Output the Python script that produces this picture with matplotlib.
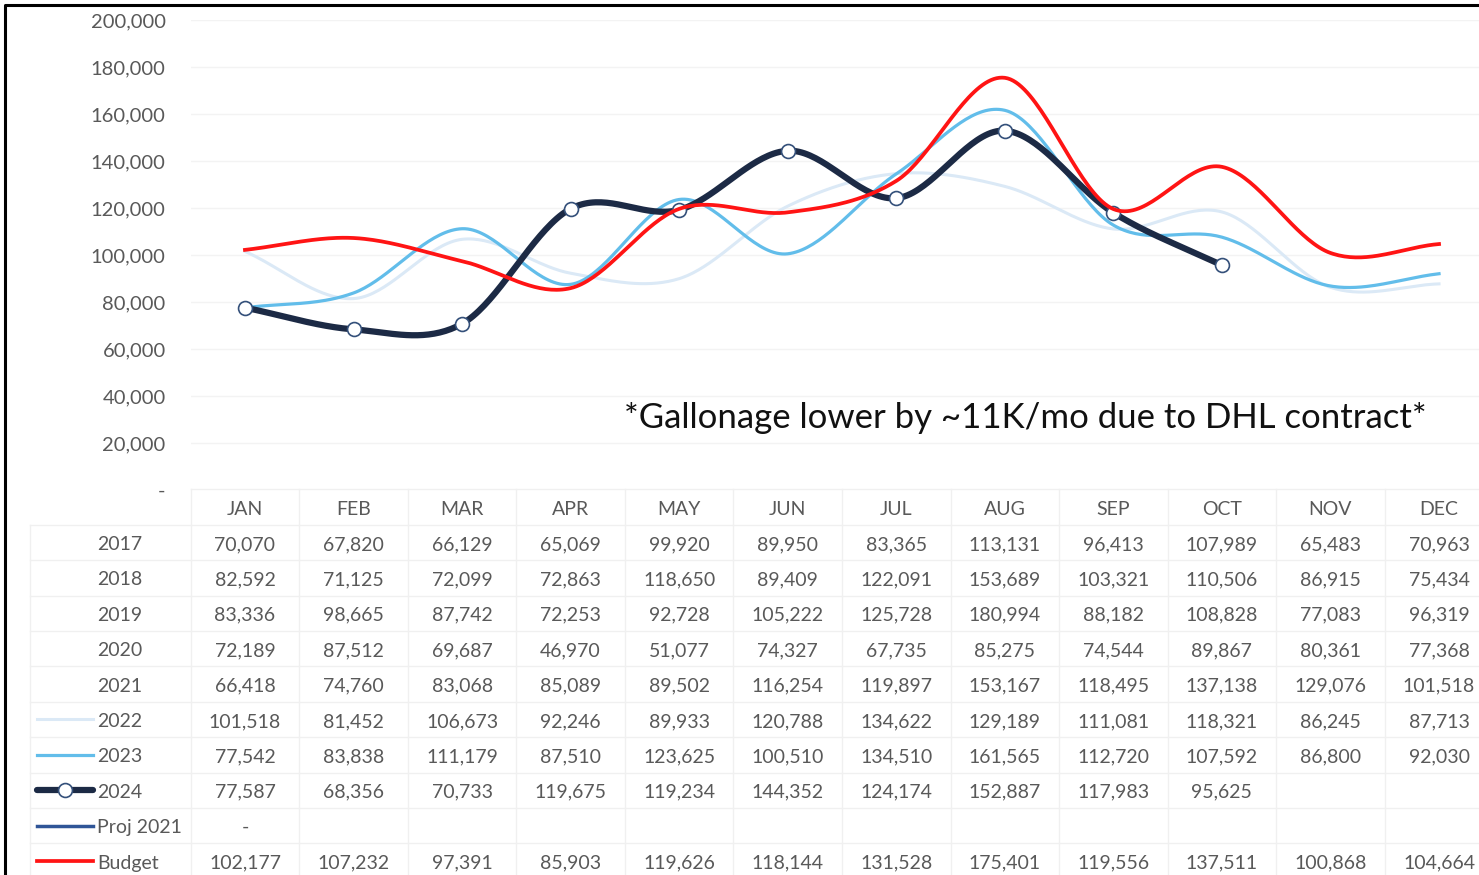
import numpy as np
import matplotlib.pyplot as plt
from matplotlib.lines import Line2D

months = ['JAN', 'FEB', 'MAR', 'APR', 'MAY', 'JUN', 'JUL', 'AUG', 'SEP', 'OCT', 'NOV', 'DEC']
y2017 = [70070, 67820, 66129, 65069, 99920, 89950, 83365, 113131, 96413, 107989, 65483, 70963]
y2018 = [82592, 71125, 72099, 72863, 118650, 89409, 122091, 153689, 103321, 110506, 86915, 75434]
y2019 = [83336, 98665, 87742, 72253, 92728, 105222, 125728, 180994, 88182, 108828, 77083, 96319]
y2020 = [72189, 87512, 69687, 46970, 51077, 74327, 67735, 85275, 74544, 89867, 80361, 77368]
y2021 = [66418, 74760, 83068, 85089, 89502, 116254, 119897, 153167, 118495, 137138, 129076, 101518]
y2022 = [101518, 81452, 106673, 92246, 89933, 120788, 134622, 129189, 111081, 118321, 86245, 87713]
y2023 = [77542, 83838, 111179, 87510, 123625, 100510, 134510, 161565, 112720, 107592, 86800, 92030]
y2024 = [77587, 68356, 70733, 119675, 119234, 144352, 124174, 152887, 117983, 95625]
proj2021 = [0]
budget = [102177, 107232, 97391, 85903, 119626, 118144, 131528, 175401, 119556, 137511, 100868, 104664]

FONT = 'Lato'
GREY = '#595959'
C22 = '#dbe9f6'
C23 = '#62bdea'
C24 = '#1c2a45'
CPROJ = '#2f5597'
CBUD = '#ff1414'


def smooth(vals, n=40):
    # Catmull-Rom style curve through the points, like Excel's smoothed line
    y = np.asarray(vals, float)
    m = np.gradient(y)
    t = np.linspace(0, 1, n)
    h00 = 2 * t**3 - 3 * t**2 + 1
    h10 = t**3 - 2 * t**2 + t
    h01 = -2 * t**3 + 3 * t**2
    h11 = t**3 - t**2
    xs, ys = [], []
    for i in range(len(y) - 1):
        xs.append(i + t)
        ys.append(h00 * y[i] + h10 * m[i] + h01 * y[i + 1] + h11 * m[i + 1])
    return np.concatenate(xs), np.concatenate(ys)


W, H = 1479, 875
fig = plt.figure(figsize=(W / 100, H / 100), dpi=100)

# chart area
left = 190.7 / W
width = 1302.6 / W
ax = fig.add_axes([left, 1 - 490 / H, width, 470 / H])
ax.set_xlim(-0.5, 11.5)
ax.set_ylim(0, 200000)
for s in ax.spines.values():
    s.set_visible(False)
ax.set_xticks([])
ax.set_yticks(range(0, 200001, 20000))
ax.set_yticklabels(['-'] + [f'{v:,}' for v in range(20000, 200001, 20000)])
ax.tick_params(axis='y', length=0, pad=18, labelsize=14.5, labelcolor=GREY)
for lb in ax.get_yticklabels():
    lb.set_fontfamily(FONT)
ax.grid(axis='y', color='#f3f3f3', lw=1)

x, y = smooth(y2022)
ax.plot(x, y, color=C22, lw=2.2, zorder=2)
x, y = smooth(y2023)
ax.plot(x, y, color=C23, lw=2.3, zorder=3)
x, y = smooth(y2024)
ax.plot(x, y, color=C24, lw=4.5, zorder=4, solid_capstyle='round')
ax.plot(range(len(y2024)), y2024, 'o', ms=10, mfc='white', mec='#34507a', mew=1.2, zorder=5)
x, y = smooth(budget)
ax.plot(x, y, color=CBUD, lw=2.7, zorder=6)

ax.text(0.641, 0.153, '*Gallonage lower by ~11K/mo due to DHL contract*', transform=ax.transAxes,
        ha='center', va='center', fontsize=25, family=FONT, color='#111111')

# data table under the chart
tb = fig.add_axes([left, 1 - 878.7 / H, width, 389.4 / H])
tb.set_xlim(-0.5, 11.5)
tb.set_ylim(10.5, -0.5)
tb.axis('off')

rows = [('2017', y2017), ('2018', y2018), ('2019', y2019), ('2020', y2020), ('2021', y2021),
        ('2022', y2022), ('2023', y2023), ('2024', y2024), ('Proj 2021', proj2021),
        ('Budget', budget)]

gl = dict(color='#f0f0f0', lw=1, clip_on=False)
for c in range(13):
    tb.plot([c - 0.5, c - 0.5], [-0.5, 10.5], **gl)
tb.plot([-0.5, 11.5], [-0.5, -0.5], **gl)
for r in range(1, 11):
    tb.plot([-1.98, 11.5], [r - 0.5, r - 0.5], **gl)
tb.plot([-1.98, -1.98], [0.5, 10.5], **gl)

dy = 0.06
for i, m in enumerate(months):
    tb.text(i, dy, m, ha='center', va='center', fontsize=14, color=GREY, family=FONT)

for r, (name, vals) in enumerate(rows, start=1):
    tb.text(-1.36, r + dy, name, ha='left', va='center', fontsize=14, color=GREY, family=FONT)
    for i, v in enumerate(vals):
        s = '-' if v == 0 else f'{v:,}'
        tb.text(i, r + dy, s, ha='center', va='center', fontsize=14, color=GREY, family=FONT)

# legend keys in the row labels
kx = [-1.92, -1.40]
tb.add_line(Line2D(kx, [6, 6], color=C22, lw=2.2, clip_on=False))
tb.add_line(Line2D(kx, [7, 7], color=C23, lw=2.3, clip_on=False))
tb.add_line(Line2D(kx, [8, 8], color=C24, lw=4.5, clip_on=False, solid_capstyle='round'))
tb.add_line(Line2D([np.mean(kx)], [8], marker='o', ms=10, mfc='white', mec='#34507a', mew=1.2,
                   clip_on=False))
tb.add_line(Line2D(kx, [9, 9], color=CPROJ, lw=2.5, clip_on=False))
tb.add_line(Line2D(kx, [10, 10], color=CBUD, lw=2.7, clip_on=False))

# black frame on left and top
fr = fig.add_axes([0, 0, 1, 1], zorder=-1)
fr.set_xlim(0, W)
fr.set_ylim(H, 0)
fr.axis('off')
fr.plot([5, 5, W], [H, 5, 5], color='black', lw=2.2)

fig.savefig('out.png', dpi=100)
